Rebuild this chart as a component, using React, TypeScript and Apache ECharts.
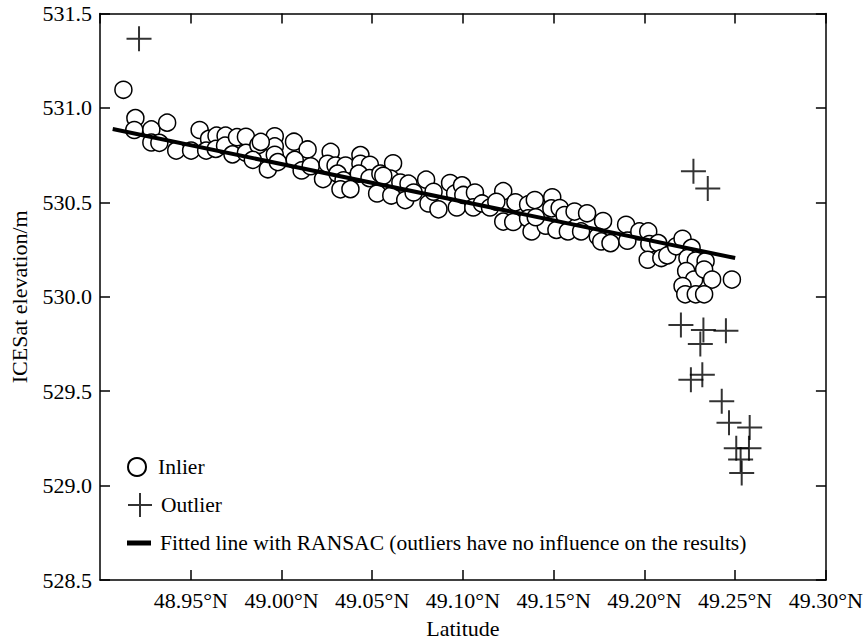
import React, { useEffect, useRef } from "react";
import * as echarts from "echarts";

const inlierLat = [
  48.9129, 48.9195, 48.9189, 48.9283, 48.937, 48.9283, 48.9327, 48.942, 48.9502, 48.9549,
  48.9601, 48.9585, 48.9642, 48.9692, 48.9638, 48.9689, 48.9755, 48.9804, 48.973, 48.9804,
  48.9873, 48.9842, 48.9925, 48.9963, 48.9963, 48.9963, 48.9886, 48.998, 49.0069, 49.0144,
  49.0073, 49.0111, 49.0161, 49.0229, 49.0271, 49.0254, 49.0298, 49.0353, 49.0309, 49.0342,
  49.0325, 49.038, 49.0435, 49.0435, 49.0487, 49.0426, 49.0485, 49.0527, 49.0545, 49.0615,
  49.06, 49.0605, 49.0655, 49.0682, 49.07, 49.0728, 49.0797, 49.081, 49.0865, 49.0838,
  49.0929, 49.0957, 49.0966, 49.0995, 49.1002, 49.1066, 49.1057, 49.1105, 49.1149, 49.1222,
  49.1184, 49.1222, 49.1277, 49.1289, 49.1359, 49.1396, 49.1359, 49.1378, 49.1492, 49.1487,
  49.1533, 49.156, 49.1456, 49.1515, 49.1578, 49.1615, 49.1651, 49.1684, 49.1772, 49.1743,
  49.1762, 49.1813, 49.1899, 49.1906, 49.1972, 49.2021, 49.2027, 49.2076, 49.2018, 49.2093,
  49.2126, 49.2175, 49.221, 49.226, 49.2237, 49.2283, 49.2337, 49.223, 49.2274, 49.2329,
  49.2373, 49.2482, 49.221, 49.2225, 49.2283, 49.2329, 49.0561, 49.1401,
];
const inlierElev = [
  531.096, 530.946, 530.883, 530.886, 530.922, 530.817, 530.815, 530.774, 530.774, 530.883,
  530.836, 530.774, 530.853, 530.853, 530.783, 530.8, 530.845, 530.847, 530.754, 530.762,
  530.804, 530.725, 530.675, 530.85, 530.796, 530.752, 530.82, 530.713, 530.821, 530.78,
  530.725, 530.669, 530.691, 530.623, 530.767, 530.704, 530.695, 530.695, 530.652, 530.617,
  530.569, 530.57, 530.75, 530.704, 530.699, 530.652, 530.628, 530.547, 530.652, 530.707,
  530.626, 530.536, 530.605, 530.512, 530.599, 530.552, 530.62, 530.494, 530.463, 530.556,
  530.602, 530.547, 530.473, 530.59, 530.539, 530.552, 530.473, 530.494, 530.473, 530.559,
  530.503, 530.398, 530.396, 530.5, 530.489, 530.512, 530.415, 530.346, 530.527, 530.468,
  530.47, 530.433, 530.376, 530.354, 530.346, 530.451, 530.346, 530.442, 530.401, 530.319,
  530.293, 530.284, 530.381, 530.297, 530.346, 530.346, 530.279, 530.284, 530.196, 530.205,
  530.219, 530.267, 530.307, 530.259, 530.205, 530.192, 530.188, 530.136, 530.091, 530.144,
  530.091, 530.091, 530.057, 530.013, 530.013, 530.013, 530.641, 530.421,
];

const outlierLat = [
  48.9215, 49.227, 49.2349, 49.2201, 49.2325, 49.2449, 49.2308, 49.2256, 49.2319, 49.2426,
  49.2466, 49.258, 49.2506, 49.2576, 49.253, 49.2536,
];
const outlierElev = [
  531.366, 530.664, 530.573, 529.85, 529.824, 529.82, 529.75, 529.561, 529.587, 529.447,
  529.333, 529.307, 529.198, 529.198, 529.138, 529.067,
];

const fitLat = [48.907, 49.25];
const fitElev = [530.888, 530.205];

const SERIES_NAMES = [
  "Inlier",
  "Outlier",
  "Fitted line with RANSAC (outliers have no influence on the results)",
];

const FONT = "'Liberation Serif', 'Times New Roman', serif";
const CROSS = "path://M0,12 L24,12 M12,0 L12,24";

export default function App() {
  const ref = useRef<HTMLDivElement>(null);

  useEffect(() => {
    if (!ref.current) return;
    const chart = echarts.init(ref.current, undefined, { renderer: "svg" });
    const textStyle = { fontFamily: FONT, fontSize: 22, color: "#000" };
    const axisLine = { show: true, lineStyle: { color: "#000", width: 1.5 } };
    const axisTick = { show: true, inside: true, length: 10, lineStyle: { color: "#000", width: 1.5 } };

    const legendBase = {
      orient: "vertical",
      left: 122,
      selectedMode: false,
      textStyle: { ...textStyle, fontSize: 21.5, padding: [0, 0, 0, 4] },
    };

    chart.setOption({
      animation: false,
      backgroundColor: "#fff",
      grid: { left: 98.5, right: 39, top: 13.5, bottom: 59.5, containLabel: false },
      legend: [
        {
          ...legendBase,
          top: 451,
          itemWidth: 24,
          itemHeight: 18,
          data: [{ name: SERIES_NAMES[0], icon: "circle" }],
        },
        {
          ...legendBase,
          top: 487,
          itemWidth: 24,
          itemHeight: 24,
          data: [{ name: SERIES_NAMES[1], icon: CROSS }],
        },
        {
          ...legendBase,
          top: 527,
          itemWidth: 24,
          itemHeight: 5,
          data: [{ name: SERIES_NAMES[2], icon: "rect" }],
        },
      ],
      xAxis: [
        {
          type: "value",
          min: 48.9,
          max: 49.3,
          interval: 0.05,
          position: "bottom",
          name: "Latitude",
          nameLocation: "middle",
          nameGap: 37,
          nameTextStyle: textStyle,
          axisLine,
          axisTick,
          splitLine: { show: false },
          axisLabel: {
            ...textStyle,
            margin: 9,
            showMinLabel: false,
            formatter: (v: number) => v.toFixed(2) + "°N",
          },
        },
        {
          type: "value",
          min: 48.9,
          max: 49.3,
          interval: 0.05,
          position: "top",
          axisLine,
          axisTick,
          splitLine: { show: false },
          axisLabel: { show: false },
        },
      ],
      yAxis: [
        {
          type: "value",
          min: 528.5,
          max: 531.5,
          interval: 0.5,
          position: "left",
          name: "ICESat elevation/m",
          nameLocation: "middle",
          nameGap: 70,
          nameTextStyle: textStyle,
          axisLine,
          axisTick,
          splitLine: { show: false },
          axisLabel: { ...textStyle, margin: 8, formatter: (v: number) => v.toFixed(1) },
        },
        {
          type: "value",
          min: 528.5,
          max: 531.5,
          interval: 0.5,
          position: "right",
          axisLine,
          axisTick,
          splitLine: { show: false },
          axisLabel: { show: false },
        },
      ],
      series: [
        {
          name: SERIES_NAMES[0],
          type: "scatter",
          symbol: "circle",
          symbolSize: 17,
          itemStyle: { color: "#fff", borderColor: "#000", borderWidth: 1.5, opacity: 1 },
          data: inlierLat.map((x, i) => [x, inlierElev[i]]),
          z: 2,
        },
        {
          name: SERIES_NAMES[1],
          type: "scatter",
          symbol: CROSS,
          symbolSize: 25,
          itemStyle: { color: "rgba(0,0,0,0)", borderColor: "#000", borderWidth: 2 },
          data: outlierLat.map((x, i) => [x, outlierElev[i]]),
          z: 3,
        },
        {
          name: SERIES_NAMES[2],
          type: "line",
          symbol: "none",
          color: "#000",
          itemStyle: { color: "#000" },
          lineStyle: { color: "#000", width: 4 },
          data: fitLat.map((x, i) => [x, fitElev[i]]),
          z: 4,
        },
      ],
    });
    return () => chart.dispose();
  }, []);

  return (
    <div
      ref={ref}
      style={{ position: "fixed", left: 0, top: 0, width: 866, height: 644, background: "#fff" }}
    />
  );
}
